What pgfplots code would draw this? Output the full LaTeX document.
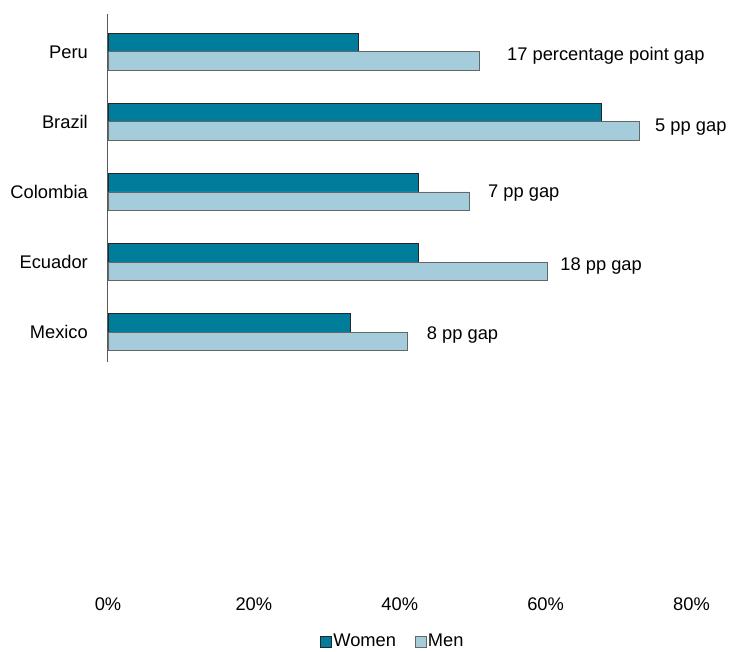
\documentclass[border=0pt]{standalone}
\usepackage{fontspec}
\setmainfont{Liberation Sans}
\usepackage{pgfplots}
\pgfplotsset{compat=1.18}
\definecolor{women}{RGB}{0,125,155}
\definecolor{men}{RGB}{164,204,218}
\definecolor{axisgray}{RGB}{90,90,90}
\begin{document}
\fontsize{18.3bp}{22bp}\selectfont
\begin{tikzpicture}
\useasboundingbox (-108bp,-60bp) rectangle (622bp,592bp);
\begin{axis}[
  at={(0,0)}, anchor=south west,
  scale only axis, width=583.5bp, height=578bp,
  xbar, clip=false,
  xmin=0, xmax=80, ymin=-2.71, ymax=5.54,
  axis x line*=bottom, axis y line*=left,
  axis line style={draw=none},
  major tick length=0pt,
  ytick={1,2,3,4,5},
  yticklabels={Mexico,Ecuador,Colombia,Brazil,Peru},
  xtick={0,20,40,60,80},
  xticklabel={\pgfmathprintnumber{\tick}\%},
  /pgf/number format/assume math mode=true,
  yticklabel style={anchor=east, inner sep=0pt, xshift=-20bp},
  xticklabel style={anchor=north, inner sep=0pt, yshift=-6bp},
  tick label style={font=\fontsize{18.3bp}{22bp}\selectfont},
  bar width=0.264,
  legend style={at={(0.4876,-0.086)}, anchor=center, draw=none, fill=none,
    legend columns=2, font=\fontsize{18.3bp}{22bp}\selectfont,
    nodes={inner sep=1.5bp},
    /tikz/every even column/.append style={column sep=17bp},
    inner sep=0pt},
  legend image code/.code={\draw[#1,/tikz/.cd] (0bp,-5.5bp) rectangle (11bp,5.5bp);},
]
\addplot[fill=women, draw=black!85, line width=0.8bp, bar shift=0.132] coordinates {
  (34.3,5) (67.6,4) (42.5,3) (42.6,2) (33.3,1)};
\addplot[fill=men, draw=black!60, line width=0.8bp, bar shift=-0.132] coordinates {
  (50.9,5) (72.9,4) (49.5,3) (60.3,2) (41.0,1)};
\legend{Women, Men}
\draw[axisgray, line width=1bp] (axis cs:0,0.57) -- (axis cs:0,5.54);
\node[anchor=west, inner sep=0pt] at (axis cs:54.7,4.95) {17 percentage point gap};
\node[anchor=west, inner sep=0pt] at (axis cs:75.0,3.93) {5 pp gap};
\node[anchor=west, inner sep=0pt] at (axis cs:52.1,2.98) {7 pp gap};
\node[anchor=west, inner sep=0pt] at (axis cs:62.0,1.94) {18 pp gap};
\node[anchor=west, inner sep=0pt] at (axis cs:43.7,0.96) {8 pp gap};
\end{axis}
\end{tikzpicture}
\end{document}
